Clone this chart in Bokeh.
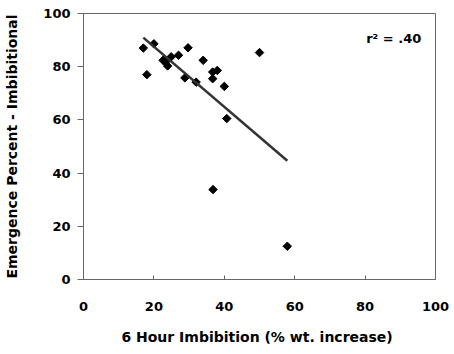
import numpy as np
from bokeh.plotting import figure
from bokeh.models import Range1d, FixedTicker, Label, ColumnDataSource
from bokeh.embed import file_html
from bokeh.resources import INLINE

# Data
imbibition = [17.0, 18.0, 20.0, 22.6, 23.3, 23.9, 24.9, 27.0, 29.7, 28.8,
              32.0, 34.0, 36.7, 38.0, 36.7, 40.0, 40.7, 50.0, 36.8, 57.9]
emergence = [87.0, 77.0, 88.6, 82.4, 81.8, 80.3, 83.7, 84.3, 87.1, 75.8,
             74.2, 82.4, 78.0, 78.6, 75.5, 72.6, 60.5, 85.3, 33.8, 12.5]
x_ticks = [0, 20, 40, 60, 80, 100]
y_ticks = [0, 20, 40, 60, 80, 100]
x_title = "6 Hour Imbibition (%  wt. increase)"
y_title = "Emergence Percent - Imbibitional"
r2_text = "r\u00b2 = .40"

FONT = "DejaVu Sans"
GREY = "#666666"

p = figure(width=454, height=354, output_backend="svg", toolbar_location=None,
           x_range=Range1d(0, 100), y_range=Range1d(0, 100),
           min_border_left=83, min_border_right=19, min_border_top=13, min_border_bottom=75)
p.grid.visible = False
p.outline_line_color = GREY
p.outline_line_width = 1
p.background_fill_color = "white"
p.border_fill_color = "white"

src = ColumnDataSource(dict(x=imbibition, y=emergence))
p.scatter("x", "y", source=src, marker="square", angle=np.pi / 4, size=6,
          fill_color="black", line_color="black")

# Least-squares trend line over the data's x range
slope, intercept = np.polyfit(imbibition, emergence, 1)
fx = [min(imbibition), max(imbibition)]
fy = [slope * v + intercept for v in fx]
p.line(fx, fy, line_color="#333333", line_width=2.5)

for ax in (p.xaxis[0], p.yaxis[0]):
    ax.axis_line_color = GREY
    ax.major_tick_line_color = GREY
    ax.minor_tick_line_color = None
    ax.major_label_text_font = FONT
    ax.major_label_text_font_style = "bold"
    ax.major_label_text_font_size = "13px"
    ax.major_label_text_color = "black"
    ax.axis_label_text_font = FONT
    ax.axis_label_text_font_style = "bold"
    ax.axis_label_text_font_size = "14px"
    ax.axis_label_text_color = "black"

p.xaxis.ticker = FixedTicker(ticks=x_ticks)
p.yaxis.ticker = FixedTicker(ticks=y_ticks)
p.xaxis.major_tick_in = 4
p.xaxis.major_tick_out = 0
p.yaxis.major_tick_in = 0
p.yaxis.major_tick_out = 6
p.xaxis.major_label_standoff = 22
p.yaxis.major_label_standoff = 7
p.xaxis.axis_label = x_title
p.yaxis.axis_label = y_title
p.xaxis.axis_label_standoff = 15
p.yaxis.axis_label_standoff = 20

p.add_layout(Label(x=80.3, y=90.6, text=r2_text, text_font=FONT,
                   text_font_style="bold", text_font_size="13px",
                   text_color="black", text_baseline="alphabetic"))

open("out.html", "w").write(file_html(p, INLINE))
